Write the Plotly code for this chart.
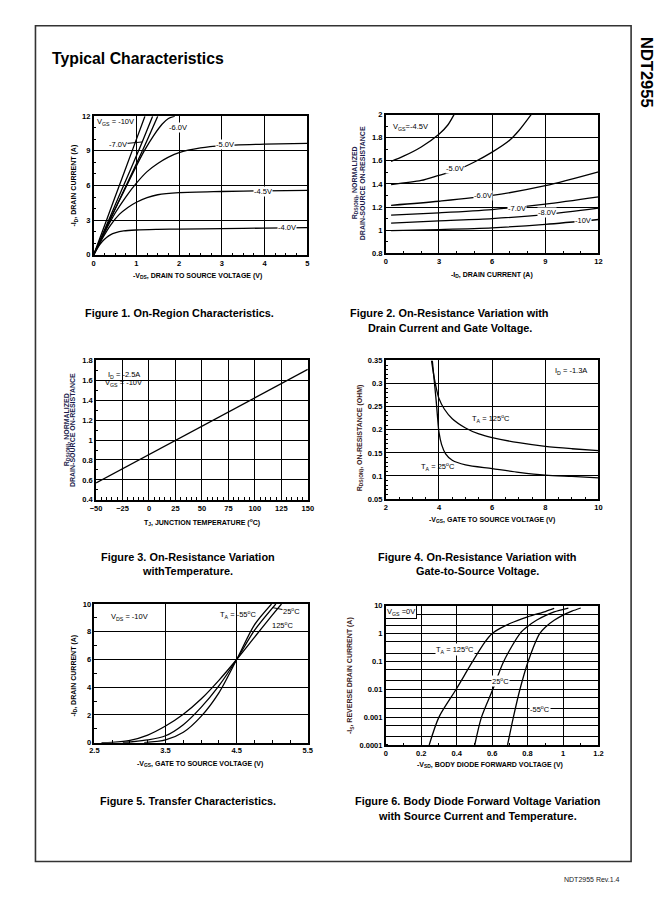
import math
import plotly.graph_objects as go

W, H = 670, 919
FONT = "Arial, Liberation Sans, Helvetica, sans-serif"

# ---------------- Figure 1 data: -ID vs -VDS ----------------
f1_vds_10 = [0, 0.3, 0.6, 0.9, 1.2]
f1_id_10 = [0, 3.0, 6.0, 9.0, 12.0]
f1_vds_8 = [0, 0.35, 0.7, 1.05, 1.38]
f1_id_8 = [0, 3.0, 6.0, 9.0, 12.0]
f1_vds_7 = [0, 0.38, 0.76, 1.14, 1.5]
f1_id_7 = [0, 3.0, 6.0, 9.0, 12.0]
f1_vds_6 = [0, 0.2, 0.4, 0.6, 0.8, 1.0, 1.2, 1.4, 1.6, 1.75, 1.9]
f1_id_6 = [0, 1.6, 3.2, 4.7, 6.2, 7.7, 9.1, 10.3, 11.3, 11.8, 12.0]
f1_vds_5 = [0, 0.25, 0.5, 0.75, 1.0, 1.25, 1.5, 1.75, 2.0, 2.5, 3.0, 4.0, 5.0]
f1_id_5 = [0, 1.9, 3.6, 5.0, 6.2, 7.2, 7.9, 8.45, 8.85, 9.25, 9.45, 9.58, 9.65]
f1_vds_45 = [0, 0.2, 0.4, 0.6, 0.8, 1.0, 1.25, 1.5, 2.0, 3.0, 4.0, 5.0]
f1_id_45 = [0, 1.4, 2.6, 3.5, 4.1, 4.55, 4.95, 5.2, 5.38, 5.48, 5.54, 5.58]
f1_vds_4 = [0, 0.1, 0.2, 0.3, 0.4, 0.5, 0.7, 1.0, 1.5, 2.0, 3.0, 4.0, 5.0]
f1_id_4 = [0, 0.65, 1.15, 1.5, 1.75, 1.9, 2.07, 2.15, 2.2, 2.23, 2.27, 2.31, 2.35]

# ---------------- Figure 2 data: normalized RDS(on) vs -ID ----------------
f2_id_45 = [0.3, 1, 2, 3, 3.5, 3.85]
f2_r_45 = [1.595, 1.64, 1.72, 1.83, 1.91, 2.0]
f2_id_5 = [0.3, 2, 3, 4, 5, 6, 7, 7.5, 8.2]
f2_r_5 = [1.395, 1.43, 1.475, 1.52, 1.59, 1.675, 1.78, 1.86, 2.0]
f2_id_6 = [0.3, 3, 6, 9, 12]
f2_r_6 = [1.215, 1.25, 1.30, 1.385, 1.505]
f2_id_7 = [0.3, 3, 6, 9, 12]
f2_r_7 = [1.13, 1.15, 1.178, 1.225, 1.288]
f2_id_8 = [0.3, 3, 6, 9, 12]
f2_r_8 = [1.06, 1.08, 1.10, 1.135, 1.19]
f2_id_10 = [0.3, 3, 6, 9, 12]
f2_r_10 = [0.995, 1.005, 1.02, 1.05, 1.092]

# ---------------- Figure 3 data: normalized RDS(on) vs TJ ----------------
f3_tj = [-50, 150]
f3_r = [0.57, 1.71]

# ---------------- Figure 4 data: RDS(on) vs -VGS ----------------
f4_vgs_25 = [3.75, 3.8, 3.85, 3.9, 3.95, 4.0, 4.1, 4.25, 4.5, 5.0, 6.0, 7.0, 8.0, 9.0, 10.0]
f4_r_25 = [0.35, 0.32, 0.29, 0.26, 0.225, 0.195, 0.168, 0.148, 0.134, 0.124, 0.116, 0.108, 0.102, 0.099, 0.096]
f4_vgs_125 = [3.72, 3.8, 3.9, 4.0, 4.2, 4.5, 5.0, 5.5, 6.0, 7.0, 8.0, 9.0, 10.0]
f4_r_125 = [0.35, 0.32, 0.29, 0.268, 0.245, 0.224, 0.204, 0.191, 0.183, 0.172, 0.164, 0.159, 0.155]

# ---------------- Figure 5 data: -ID vs -VGS ----------------
f5_vgs_m55 = [3.2, 3.5, 3.75, 4.0, 4.25, 4.5, 4.75, 4.99]
f5_id_m55 = [0.0, 0.2, 0.75, 1.9, 3.6, 6.0, 8.5, 10.0]
f5_vgs_25 = [2.9, 3.0, 3.25, 3.5, 3.75, 4.0, 4.25, 4.5, 4.75, 5.05]
f5_id_25 = [0.0, 0.05, 0.2, 0.5, 1.3, 2.55, 4.1, 6.0, 8.1, 10.0]
f5_vgs_125 = [2.6, 2.75, 3.0, 3.25, 3.5, 3.75, 4.0, 4.25, 4.5, 4.75, 5.0, 5.13]
f5_id_125 = [0.0, 0.03, 0.17, 0.55, 1.2, 2.05, 3.15, 4.5, 6.0, 7.6, 9.2, 10.0]

# ---------------- Figure 6 data: -IS vs -VSD ----------------
f6_vsd_125 = [0.245, 0.30, 0.397, 0.49, 0.56, 0.6, 0.65, 0.7, 0.8, 0.9, 0.95]
f6_is_125 = [1e-4, 1e-3, 1e-2, 0.1, 0.5, 1.0, 1.6, 2.3, 4.0, 6.2, 8.0]
f6_vsd_25 = [0.502, 0.54, 0.604, 0.665, 0.757, 0.8, 0.85, 0.9, 0.95, 1.03]
f6_is_25 = [1e-4, 1e-3, 1e-2, 0.1, 1.0, 1.8, 3.0, 4.4, 6.0, 8.2]
f6_vsd_m55 = [0.687, 0.72, 0.757, 0.803, 0.868, 0.9, 0.95, 1.0, 1.05, 1.1]
f6_is_m55 = [1e-4, 1e-3, 1e-2, 0.1, 1.0, 1.7, 3.0, 4.6, 6.4, 8.3]
f6_ytickvals = [1e-4, 1e-3, 1e-2, 1e-1, 1, 10]
f6_yticktext = ["0.0001", "0.001", "0.01", "0.1", "1", "10"]


def px(x):
    return x / W


def py(y):
    return 1 - y / H


fig = go.Figure()


def line(x, y, ax, shape="spline"):
    fig.add_trace(go.Scatter(x=x, y=y, mode="lines", xaxis="x" + ax, yaxis="y" + ax,
                             line=dict(color="black", width=1.3, shape=shape, smoothing=0.8),
                             hoverinfo="skip"))


for x, y in [(f1_vds_10, f1_id_10), (f1_vds_8, f1_id_8), (f1_vds_7, f1_id_7), (f1_vds_6, f1_id_6),
             (f1_vds_5, f1_id_5), (f1_vds_45, f1_id_45), (f1_vds_4, f1_id_4)]:
    line(x, y, "")
for x, y in [(f2_id_45, f2_r_45), (f2_id_5, f2_r_5), (f2_id_6, f2_r_6), (f2_id_7, f2_r_7),
             (f2_id_8, f2_r_8), (f2_id_10, f2_r_10)]:
    line(x, y, "2")
line(f3_tj, f3_r, "3", "linear")
line(f4_vgs_25, f4_r_25, "4")
line(f4_vgs_125, f4_r_125, "4")
line(f5_vgs_m55, f5_id_m55, "5")
line(f5_vgs_25, f5_id_25, "5")
line(f5_vgs_125, f5_id_125, "5")
line(f6_vsd_125, f6_is_125, "6")
line(f6_vsd_25, f6_is_25, "6")
line(f6_vsd_m55, f6_is_m55, "6")

TICKFONT = dict(family=FONT, size=7.5, color="black", weight="bold")


def axis(x0, x1, rng, dtick=None, tickvals=None, ticktext=None, minor_dtick=None, typ="linear",
         minor_grid=False, horiz=True):
    d = dict(domain=[px(x0), px(x1)] if horiz else [py(x1), py(x0)], range=rng, type=typ,
             showline=True, linecolor="black", linewidth=1.6, mirror=True,
             showgrid=True, gridcolor="black", gridwidth=1, zeroline=False,
             ticks="", tickfont=TICKFONT, fixedrange=True, layer="above traces")
    if dtick is not None:
        d["dtick"] = dtick
        d["tick0"] = rng[0]
    if tickvals is not None:
        d["tickmode"] = "array"
        d["tickvals"] = tickvals
        if ticktext is not None:
            d["ticktext"] = ticktext
    minor = dict(ticks="inside", ticklen=2.5, tickcolor="black", tickwidth=1, showgrid=minor_grid,
                 gridcolor="black", gridwidth=1)
    if minor_dtick is not None:
        minor["dtick"] = minor_dtick
    if minor_dtick is not None or minor_grid:
        d["minor"] = minor
    return d


fig.update_layout(
    xaxis=axis(89.3, 306.7, [0, 5], 1, minor_dtick=0.25),
    yaxis=axis(113.3, 253.3, [0, 12], 3, minor_dtick=1, horiz=False),
    xaxis2=axis(386.7, 603.3, [0, 12], 3, minor_dtick=1),
    yaxis2=axis(111.7, 251.7, [0.8, 2.0], 0.2, minor_dtick=0.1, horiz=False),
    xaxis3=axis(91.7, 307.3, [-50, 150], 25, minor_dtick=5),
    yaxis3=axis(360, 500.7, [0.4, 1.8], 0.2, minor_dtick=0.1, horiz=False),
    xaxis4=axis(386.7, 603.3, [2, 10], 2, minor_dtick=0.5),
    yaxis4=axis(360, 500, [0.05, 0.35], 0.05, minor_dtick=0.01, horiz=False),
    xaxis5=axis(90, 307.3, [2.5, 5.5], 1, minor_dtick=0.25),
    yaxis5=axis(606, 746, [0, 10], 2, minor_dtick=1, horiz=False),
    xaxis6=axis(386.7, 603.3, [0, 1.2], 0.2, minor_dtick=0.1),
    yaxis6=axis(607.7, 748.3, [-4, 1], typ="log", tickvals=f6_ytickvals, ticktext=f6_yticktext,
                minor_grid=True, horiz=False),
)
for i in ["", "2", "3", "4", "5", "6"]:
    fig.layout["xaxis" + i].anchor = "y" + i
    fig.layout["yaxis" + i].anchor = "x" + i

fig.update_layout(width=W, height=H, margin=dict(l=0, r=0, t=0, b=0),
                  paper_bgcolor="white", plot_bgcolor="white", showlegend=False,
                  font=dict(family=FONT, color="black"))

ann = []


def paper_text(x, y, text, size, bold=True, angle=0, xanchor="center", color="black"):
    ann.append(dict(x=px(x), y=py(y), xref="paper", yref="paper", text=text, showarrow=False,
                    textangle=angle, xanchor=xanchor, yanchor="middle",
                    font=dict(family=FONT, size=size, color=color, weight="bold" if bold else "normal")))


def ycoord(ax, y):
    return math.log10(y) if ax == "6" else y


def data_text(ax, x, y, text, size=7.5, bg=None, border=None, xanchor="center"):
    d = dict(x=x, y=ycoord(ax, y), xref="x" + ax, yref="y" + ax, text=text, showarrow=False,
             xanchor=xanchor, yanchor="middle", font=dict(family=FONT, size=size, color="black"))
    if bg:
        d["bgcolor"] = bg
        d["borderpad"] = 0
    if border:
        d["bordercolor"] = border
        d["borderwidth"] = 1
        d["borderpad"] = 1
    ann.append(d)


def arrow_text(ax, x, y, tx, ty, text, size=7.5, bg="white"):
    d = dict(x=x, y=ycoord(ax, y), xref="x" + ax, yref="y" + ax, ax=tx, ay=ycoord(ax, ty),
             axref="x" + ax, ayref="y" + ax, text=text, showarrow=True, arrowhead=0, arrowwidth=1,
             arrowcolor="black", borderpad=0, font=dict(family=FONT, size=size, color="black"))
    if bg:
        d["bgcolor"] = bg
    ann.append(d)


# Page text
paper_text(45, 55, "Typical Characteristics", 15.8, xanchor="left")
paper_text(652, 69, "NDT2955", 16.5, angle=90)
paper_text(597, 884, "NDT2955 Rev.1.4", 7, bold=False, color="#222")

# Captions
CS = 10.9
paper_text(177, 312, "Figure 1. On-Region Characteristics.", CS)
paper_text(452, 312, "Figure 2. On-Resistance Variation with", CS)
paper_text(452, 327.5, "Drain Current and Gate Voltage.", CS)
paper_text(185, 558, "Figure 3. On-Resistance Variation", CS)
paper_text(185, 573, "withTemperature.", CS)
paper_text(480, 558, "Figure 4. On-Resistance Variation with", CS)
paper_text(480, 573, "Gate-to-Source Voltage.", CS)
paper_text(185, 805, "Figure 5. Transfer Characteristics.", CS)
paper_text(480, 805, "Figure 6. Body Diode Forward Voltage Variation", CS)
paper_text(480, 820, "with Source Current and Temperature.", CS)

# Axis titles
AT = 7
paper_text(195.5, 275, "-V<sub>DS</sub>, DRAIN TO SOURCE VOLTAGE (V)", AT)
paper_text(69.5, 183, "-I<sub>D</sub>, DRAIN CURRENT (A)", AT, angle=-90)
paper_text(495, 274, "-I<sub>D</sub>, DRAIN CURRENT (A)", AT)
paper_text(355.5, 181, "R<sub>DS(ON)</sub>, NORMALIZED", AT, angle=-90, color="#1c1c4c")
paper_text(362.5, 181, "DRAIN-SOURCE ON-RESISTANCE", AT, angle=-90, color="#1c1c4c")
paper_text(200, 524, "T<sub>J</sub>, JUNCTION TEMPERATURE (<sup>o</sup>C)", AT)
paper_text(61.5, 430, "R<sub>DS(ON)</sub>, NORMALIZED", AT, angle=-90, color="#1c1c4c")
paper_text(68.5, 430, "DRAIN-SOURCE ON-RESISTANCE", AT, angle=-90, color="#1c1c4c")
paper_text(495, 521.5, "-V<sub>GS</sub>, GATE TO SOURCE VOLTAGE (V)", AT)
paper_text(360, 438, "R<sub>DS(ON)</sub>, ON-RESISTANCE (OHM)", AT, angle=-90, color="#3a2020")
paper_text(198, 768, "-V<sub>GS</sub>, GATE TO SOURCE VOLTAGE (V)", AT)
paper_text(69.5, 678, "-I<sub>D</sub>, DRAIN CURRENT (A)", AT, angle=-90)
paper_text(493, 769, "-V<sub>SD</sub>, BODY DIODE FORWARD VOLTAGE (V)", AT)
paper_text(351, 678, "-I<sub>S</sub>, REVERSE DRAIN CURRENT (A)", AT, angle=-90, color="#3a2020")

# Figure 1 labels
data_text("", 0.51, 11.5, "V<sub>GS</sub> = -10V")
arrow_text("", 1.14, 9.77, 0.57, 9.57, "-7.0V")
data_text("", 1.97, 11.0, "-6.0V", bg="white")
data_text("", 3.08, 9.57, "-5.0V", bg="white")
data_text("", 3.96, 5.49, "-4.5V", bg="white")
data_text("", 4.52, 2.33, "-4.0V", bg="white")

# Figure 2 labels
data_text("2", 1.4, 1.89, "V<sub>GS</sub>=-4.5V")
data_text("2", 3.9, 1.53, "-5.0V", bg="white")
data_text("2", 5.5, 1.30, "-6.0V", bg="white")
data_text("2", 7.4, 1.19, "-7.0V", bg="white")
data_text("2", 9.1, 1.15, "-8.0V", bg="white")
data_text("2", 11.1, 1.08, "-10V", bg="white")

# Figure 3 labels
data_text("3", -23.7, 1.65, "I<sub>D</sub> = -2.5A")
data_text("3", -23.7, 1.57, "V<sub>GS</sub> = -10V")

# Figure 4 labels
data_text("4", 8.95, 0.327, "I<sub>D</sub> = -1.3A")
data_text("4", 5.94, 0.225, "T<sub>A</sub> = 125<sup>o</sup>C")
data_text("4", 3.97, 0.121, "T<sub>A</sub> = 25<sup>o</sup>C")

# Figure 5 labels
data_text("5", 3.0, 9.07, "V<sub>DS</sub> = -10V")
data_text("5", 4.52, 9.24, "T<sub>A</sub> = -55<sup>o</sup>C")
arrow_text("5", 5.0, 9.75, 5.27, 9.48, "25<sup>o</sup>C", bg=None)
data_text("5", 5.15, 8.48, "125<sup>o</sup>C")

# Figure 6 labels
data_text("6", 0.085, 5.8, "V<sub>GS</sub> =0V", bg="white", border="black")
data_text("6", 0.39, 0.27, "T<sub>A</sub> = 125<sup>o</sup>C", bg="white")
data_text("6", 0.646, 0.02, "25<sup>o</sup>C", bg="white")
data_text("6", 0.868, 0.002, "-55<sup>o</sup>C", bg="white")

fig.update_layout(annotations=ann)

# page frame
fig.add_shape(type="rect", xref="paper", yref="paper", x0=px(30), x1=px(636.5), y0=py(866), y1=py(22),
              line=dict(color="#333", width=1.6), layer="below")

css = ("var s=document.createElement('style');"
       "s.innerHTML='html,body{margin:0!important;padding:0!important;overflow:hidden!important;"
       "width:670px;height:919px;}';document.head.appendChild(s);")
fig.write_html("out.html", config={"displayModeBar": False}, post_script=css)
